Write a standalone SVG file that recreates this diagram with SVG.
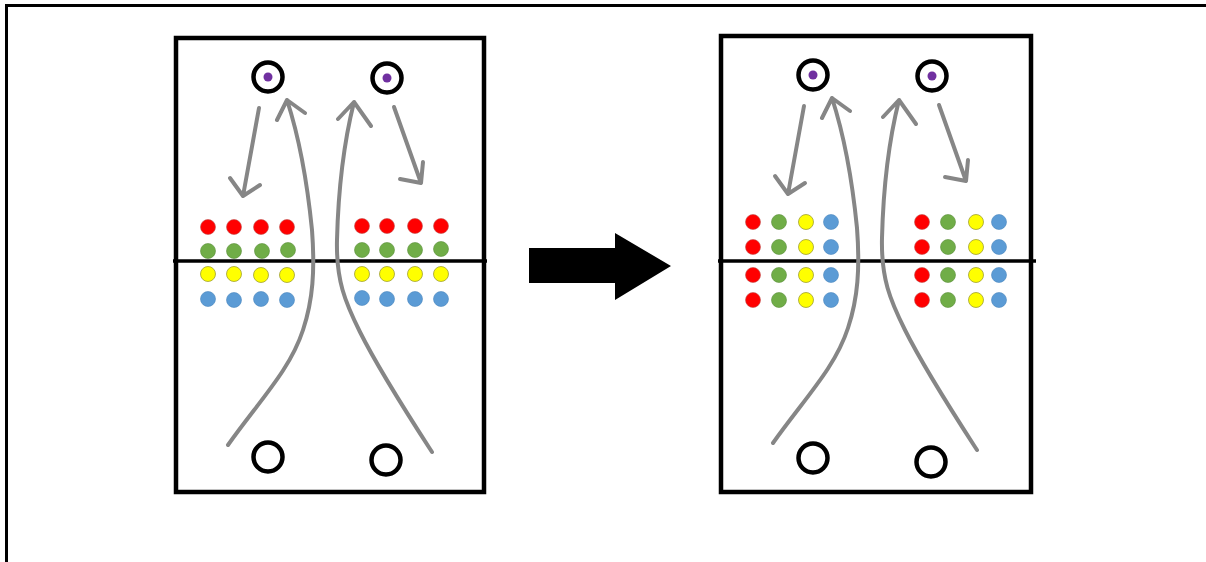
<svg xmlns="http://www.w3.org/2000/svg" width="1206" height="562" viewBox="0 0 1206 562">
<defs>
<style>
.frame{fill:none;stroke:#000;stroke-width:3}
.panel{fill:#fff;stroke:#000;stroke-width:4.5}
.mid{stroke:#000;stroke-width:3.5}
.ring{fill:#fff;stroke:#000;stroke-width:4.5}
.inner{fill:#7030a0}
.path{fill:none;stroke:#868686;stroke-width:4;stroke-linecap:round;stroke-linejoin:round}
.r{fill:#ff0000;stroke:#c0504d;stroke-width:0.6}
.g{fill:#70ad47;stroke:#5a8f3a;stroke-width:0.6}
.y{fill:#ffff00;stroke:#a0a030;stroke-width:0.8}
.b{fill:#5b9bd5;stroke:#4a86bd;stroke-width:0.6}
</style>
</defs>
<rect width="1206" height="562" fill="#fff"/>
<path class="frame" d="M6.5 562 V5.5 H1206"/>

<g id="panel-before">
<rect class="panel" x="176" y="38" width="308" height="454"/>
<line class="mid" x1="173" y1="261" x2="487" y2="261"/>
</g>

<g id="panel-after">
<rect class="panel" x="721" y="36" width="310" height="456"/>
<line class="mid" x1="718" y1="261" x2="1036" y2="261"/>
</g>

<g id="before-players">
<circle class="ring" cx="268" cy="77" r="14.5"/><circle class="inner" cx="268" cy="77" r="4.5"/>
<circle class="ring" cx="387" cy="78" r="14.5"/><circle class="inner" cx="387" cy="78" r="4.5"/>
<circle class="ring" cx="268" cy="457" r="14.5"/>
<circle class="ring" cx="386" cy="460" r="14.5"/>
</g>

<g id="after-players">
<circle class="ring" cx="813" cy="75" r="14.5"/><circle class="inner" cx="813" cy="75" r="4.5"/>
<circle class="ring" cx="932" cy="76" r="14.5"/><circle class="inner" cx="932" cy="76" r="4.5"/>
<circle class="ring" cx="813" cy="458" r="14.5"/>
<circle class="ring" cx="931" cy="462" r="14.5"/>
</g>

<g id="before-dots">
<circle class="r" cx="208" cy="227" r="7.5"/><circle class="r" cx="234" cy="227" r="7.5"/><circle class="r" cx="261" cy="227" r="7.5"/><circle class="r" cx="287" cy="227" r="7.5"/>
<circle class="g" cx="208" cy="251" r="7.5"/><circle class="g" cx="234" cy="251" r="7.5"/><circle class="g" cx="262" cy="251" r="7.5"/><circle class="g" cx="288" cy="250" r="7.5"/>
<circle class="y" cx="208" cy="274" r="7.5"/><circle class="y" cx="234" cy="274" r="7.5"/><circle class="y" cx="261" cy="275" r="7.5"/><circle class="y" cx="287" cy="275" r="7.5"/>
<circle class="b" cx="208" cy="299" r="7.5"/><circle class="b" cx="234" cy="300" r="7.5"/><circle class="b" cx="261" cy="299" r="7.5"/><circle class="b" cx="287" cy="300" r="7.5"/>
<circle class="r" cx="362" cy="226" r="7.5"/><circle class="r" cx="387" cy="226" r="7.5"/><circle class="r" cx="415" cy="226" r="7.5"/><circle class="r" cx="441" cy="226" r="7.5"/>
<circle class="g" cx="362" cy="250" r="7.5"/><circle class="g" cx="387" cy="250" r="7.5"/><circle class="g" cx="415" cy="250" r="7.5"/><circle class="g" cx="441" cy="249" r="7.5"/>
<circle class="y" cx="362" cy="274" r="7.5"/><circle class="y" cx="387" cy="274" r="7.5"/><circle class="y" cx="415" cy="274" r="7.5"/><circle class="y" cx="441" cy="274" r="7.5"/>
<circle class="b" cx="362" cy="298" r="7.5"/><circle class="b" cx="387" cy="299" r="7.5"/><circle class="b" cx="415" cy="299" r="7.5"/><circle class="b" cx="441" cy="299" r="7.5"/>
</g>

<g id="after-dots">
<circle class="r" cx="753" cy="222" r="7.5"/><circle class="g" cx="779" cy="222" r="7.5"/><circle class="y" cx="806" cy="222" r="7.5"/><circle class="b" cx="831" cy="222" r="7.5"/>
<circle class="r" cx="753" cy="247" r="7.5"/><circle class="g" cx="779" cy="247" r="7.5"/><circle class="y" cx="806" cy="247" r="7.5"/><circle class="b" cx="831" cy="247" r="7.5"/>
<circle class="r" cx="753" cy="275" r="7.5"/><circle class="g" cx="779" cy="275" r="7.5"/><circle class="y" cx="806" cy="275" r="7.5"/><circle class="b" cx="831" cy="275" r="7.5"/>
<circle class="r" cx="753" cy="300" r="7.5"/><circle class="g" cx="779" cy="300" r="7.5"/><circle class="y" cx="806" cy="300" r="7.5"/><circle class="b" cx="831" cy="300" r="7.5"/>
<circle class="r" cx="922" cy="222" r="7.5"/><circle class="g" cx="948" cy="222" r="7.5"/><circle class="y" cx="976" cy="222" r="7.5"/><circle class="b" cx="999" cy="222" r="7.5"/>
<circle class="r" cx="922" cy="247" r="7.5"/><circle class="g" cx="948" cy="247" r="7.5"/><circle class="y" cx="976" cy="247" r="7.5"/><circle class="b" cx="999" cy="247" r="7.5"/>
<circle class="r" cx="922" cy="275" r="7.5"/><circle class="g" cx="948" cy="275" r="7.5"/><circle class="y" cx="976" cy="275" r="7.5"/><circle class="b" cx="999" cy="275" r="7.5"/>
<circle class="r" cx="922" cy="300" r="7.5"/><circle class="g" cx="948" cy="300" r="7.5"/><circle class="y" cx="976" cy="300" r="7.5"/><circle class="b" cx="999" cy="300" r="7.5"/>
</g>

<g id="connectors">
<g id="before-paths">
<path class="path" d="M259 108 L243 196 M230 178 L243 196 L260 185"/>
<path class="path" d="M394 107 L421 183 M400 179 L421 183 L423 162"/>
<path class="path" d="M228 445 C260 400 290 370 303 330 C313 300 315 270 312 230 C308 190 300 140 287 100 M277 120 L287 100 L305 113"/>
<path class="path" d="M432 452 C410 418 380 372 360 332 C345 302 336 280 337 240 C338 200 342 150 354 102 M338 119 L354 102 L371 126"/>
</g>
<g id="after-paths">
<path class="path" d="M804 106 L788 194 M775 176 L788 194 L805 183"/>
<path class="path" d="M939 105 L966 181 M945 177 L966 181 L968 160"/>
<path class="path" d="M773 443 C805 398 835 368 848 328 C858 298 860 268 857 228 C853 188 845 138 832 98 M822 118 L832 98 L850 111"/>
<path class="path" d="M977 450 C955 416 925 370 905 330 C890 300 881 278 882 238 C883 198 887 148 899 100 M883 117 L899 100 L916 124"/>
</g>
</g>

<g id="transition-arrow">
<polygon points="529,248 615,248 615,233 671,266 615,300 615,283 529,283" fill="#000"/>
</g>
</svg>
